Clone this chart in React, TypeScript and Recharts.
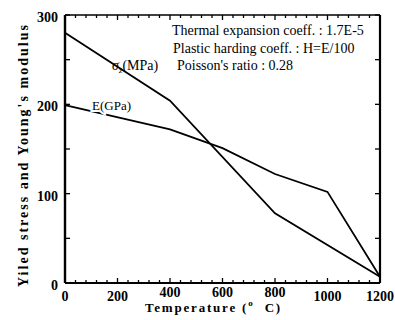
import { LineChart, Line, XAxis, YAxis, ReferenceLine } from "recharts";

// readings, per temperature (deg C)
const temperature = [0, 400, 600, 800, 1000, 1200];
const yieldStress = [280, 204, null, 78, null, 7]; // sigma_z (MPa)
const youngsModulus = [199, 172, 151, 122, 102, 7]; // E (GPa)

const xTicks = Array.from({ length: 31 }, (_, i) => i * 40);
const yTicks = [0, 50, 100, 150, 200, 250, 300];

const notes = [
  "Thermal expansion coeff. : 1.7E-5",
  "Plastic harding coeff. : H=E/100",
  "Poisson's ratio : 0.28",
];

const data = temperature.map((t, i) => ({
  t,
  sigma: yieldStress[i],
  E: youngsModulus[i],
}));

const W = 395;
const H = 320;
const PLOT_W = 315;
const PLOT_H = 268;
const serif = "'Liberation Serif', 'Times New Roman', serif";

const BottomTick = ({ x, y, payload }: any) => {
  const v = payload.value;
  const major = v % 200 === 0;
  const len = major ? 5 : 3;
  // labels sitting above the axis title are set a little higher, as in the scan
  const raised = v >= 400 && v <= 800;
  return (
    <g>
      <line x1={x} x2={x} y1={y} y2={y - len} stroke="#000" strokeWidth={1.3} />
      <line x1={x} x2={x} y1={y - PLOT_H} y2={y - PLOT_H + len} stroke="#000" strokeWidth={1.3} />
      {major && (
        <text
          x={x}
          y={y + (raised ? 14 : 18)}
          textAnchor="middle"
          fontFamily={serif}
          fontWeight="bold"
          fontSize={14}
          fill="#000"
        >
          {v}
        </text>
      )}
    </g>
  );
};

const LeftTick = ({ x, y, payload }: any) => {
  const major = payload.value % 100 === 0;
  return (
    <g>
      <line x1={x} x2={x + 5} y1={y} y2={y} stroke="#000" strokeWidth={1.3} />
      <line x1={x + PLOT_W} x2={x + PLOT_W - 5} y1={y} y2={y} stroke="#000" strokeWidth={1.3} />
      {major && (
        <text x={x - 7} y={y + 7} textAnchor="end" fontFamily={serif} fontWeight="bold" fontSize={14} fill="#000">
          {payload.value}
        </text>
      )}
    </g>
  );
};

export default function App() {
  return (
    <div style={{ position: "absolute", left: 0, top: 0, width: W, height: H, background: "#fff" }}>
      <LineChart width={W} height={H} data={data} margin={{ top: 15, right: 15, left: 0, bottom: 0 }}>
        <XAxis
          dataKey="t"
          type="number"
          domain={[0, 1200]}
          ticks={xTicks}
          interval={0}
          height={37}
          tickSize={0}
          tickMargin={0}
          tick={<BottomTick />}
          axisLine={{ stroke: "#000", strokeWidth: 2 }}
        />
        <YAxis
          type="number"
          domain={[0, 300]}
          ticks={yTicks}
          interval={0}
          width={65}
          tickSize={0}
          tickMargin={0}
          tick={<LeftTick />}
          axisLine={{ stroke: "#000", strokeWidth: 2.4 }}
        />
        <ReferenceLine y={300} stroke="#000" strokeWidth={1.6} />
        <ReferenceLine x={1200} stroke="#000" strokeWidth={2.2} />
        <Line
          dataKey="sigma"
          type="linear"
          stroke="#000"
          strokeWidth={1.8}
          dot={false}
          connectNulls
          isAnimationActive={false}
        />
        <Line
          dataKey="E"
          type="linear"
          stroke="#000"
          strokeWidth={1.8}
          dot={false}
          connectNulls
          isAnimationActive={false}
        />
      </LineChart>
      <svg
        width={W}
        height={H}
        style={{ position: "absolute", left: 0, top: 0, pointerEvents: "none" }}
        fontFamily={serif}
        fill="#000"
      >
        {notes.map((n, i) => (
          <text key={n} x={172 + (i === 2 ? 5 : i)} y={35 + i * 17.5} fontSize={14}>
            {n}
          </text>
        ))}
        <text x={112} y={70} fontSize={14}>
          <tspan fontStyle="italic">σ</tspan>
          <tspan fontSize={9} dy={3} fontStyle="italic">z</tspan>
          <tspan dy={-3}>(MPa)</tspan>
        </text>
        <text
          x={92}
          y={110}
          fontSize={13}
          stroke="#fff"
          strokeWidth={4}
          style={{ paintOrder: "stroke" }}
        >
          E(GPa)
        </text>
        <text
          x={28}
          y={156}
          transform="rotate(-90 28 156)"
          textAnchor="middle"
          fontSize={14}
          fontWeight="bold"
          textLength={262}
          lengthAdjust="spacing"
        >
          Yiled stress and Young's modulus
        </text>
        <text x={145} y={312} fontSize={13} fontWeight="bold" letterSpacing={1.8}>
          Temperature (
          <tspan fontSize={9} dy={-6}>o</tspan>
          <tspan dy={6}>{"\u00a0\u00a0"}C)</tspan>
        </text>
      </svg>
    </div>
  );
}
